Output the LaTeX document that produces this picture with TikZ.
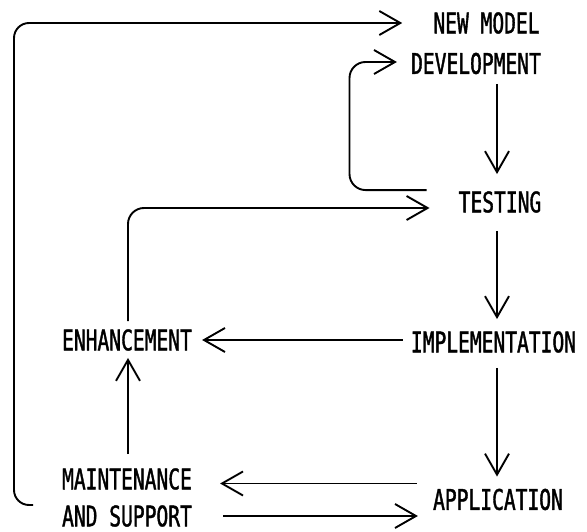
\documentclass[tikz,border=0pt]{standalone}
\usepackage{fontspec}
\usetikzlibrary{arrows.meta,calc}
\newfontfamily\lblfont[FakeStretch=0.69,FakeBold=1.3]{DejaVu Sans Mono}
\begin{document}
\begin{tikzpicture}[x=1pt,y=-1pt,
  lbl/.style={inner sep=0pt, font=\lblfont\fontsize{28.4}{37}\selectfont, align=left},
  flow/.style={line width=1.9pt, -{Straight Barb[length=21pt,width=24pt]}},
  roundpath/.style={rounded corners=16pt}]
  \useasboundingbox[fill=white] (0,0) rectangle (587,532);

  % stages of the cycle
  \node[lbl] (newmodel) at (486.5,23)  {NEW MODEL};
  \node[lbl] (dev)      at (476,63.5)  {DEVELOPMENT};
  \node[lbl] (test)     at (500,202)   {TESTING};
  \node[lbl] (impl)     at (493.5,342) {IMPLEMENTATION};
  \node[lbl] (enh)      at (127,340)   {ENHANCEMENT};
  \node[lbl] (maint)    at (127,497.5) {MAINTENANCE\\AND SUPPORT};
  \node[lbl] (app)      at (498,499.5) {APPLICATION};

  \coordinate (loopstart) at (33,505);

  % main flow down the right-hand column
  \draw[flow] ($(dev.south)+(21,9.5)$)  -- ($(test.north)+(-3,-17)$);
  \draw[flow] ($(test.south)+(-3,18)$)  -- ($(impl.north)+(3.5,-12)$);
  \draw[flow] ($(impl.south)+(3.5,15)$) -- ($(app.north)+(-1,-12)$);

  % testing feeds back into development
  \draw[flow,roundpath] ($(test.north west)+(-32,-1)$) -- ++(-77,0) |- ($(dev.west)+(-14,-1.5)$);

  % implementation to enhancement, and back to testing
  \draw[flow] ($(impl.west)+(-8,-2)$) -- ($(enh.east)+(10,0)$);
  \draw[flow,roundpath] ($(enh.north)+(1,-8)$) |- ($(test.west)+(-29,6)$);

  % application <-> maintenance and support
  \draw[flow] ($(app.west)+(-16,-16)$) -- ($(maint.east)+(28,-14)$);
  \draw[flow] ($(maint.east)+(31,18.5)$) -- ($(app.west)+(-15,16.5)$);

  % maintenance to enhancement
  \draw[flow] ($(maint.north)+(1,-14)$) -- ($(enh.south)+(1,7)$);

  % long return path to a new model
  \draw[flow,rounded corners=15pt] (loopstart) -- ++(-19,0) |- ($(newmodel.west)+(-31,0)$);
\end{tikzpicture}
\end{document}
